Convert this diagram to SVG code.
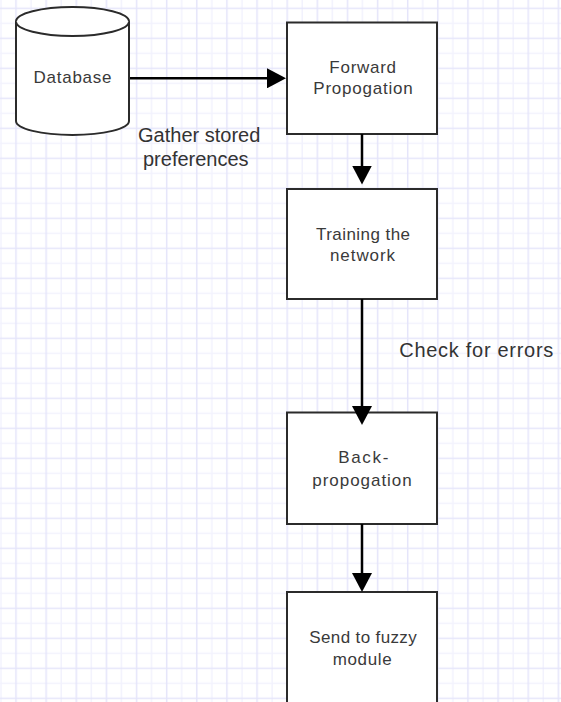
<svg xmlns="http://www.w3.org/2000/svg" width="561" height="702" viewBox="0 0 561 702">
<style>
.box{fill:#ffffff;stroke:#2b2b2b;stroke-width:2}
.t{font-family:"Liberation Sans",Arial,sans-serif;font-size:17px;fill:#3a3a3a;text-anchor:middle}
.lbl{font-family:"Liberation Sans",Arial,sans-serif;font-size:20px;fill:#333333}
.con{stroke:#000000;stroke-width:2.5;fill:none}
</style>
<defs>
<pattern id="grid" patternUnits="userSpaceOnUse" x="8.5" y="0.8" width="30.13" height="30">
<line x1="22.57" y1="0" x2="22.57" y2="30" stroke="#f2f2fd" stroke-width="1.5"/>
<line x1="0" y1="22.5" x2="30.13" y2="22.5" stroke="#f2f2fd" stroke-width="1.5"/>
<line x1="7.5" y1="0" x2="7.5" y2="30" stroke="#e5e5fa" stroke-width="1.5"/>
<line x1="0" y1="7.5" x2="30.13" y2="7.5" stroke="#e5e5fa" stroke-width="1.5"/>
</pattern>
<marker id="arr" markerUnits="userSpaceOnUse" markerWidth="20" markerHeight="20" refX="11" refY="10" orient="auto">
<path d="M0,0 L19,10 L0,20 Z" fill="#000000"/>
</marker>
</defs>
<rect x="0" y="0" width="561" height="702" fill="#ffffff"/>
<rect x="0" y="0" width="561" height="702" fill="url(#grid)"/>

<g id="database">
<path class="box" d="M16,21.5 A56.5,14.5 0 0 1 129,21.5 L129,121 A56.5,14 0 0 1 16,121 Z"/>
<path class="box" fill="none" d="M16,21.5 A56.5,14.5 0 0 0 129,21.5"/>
<text class="t" x="72.5" y="82.7" textLength="78" lengthAdjust="spacing">Database</text>
</g>

<g id="forward">
<rect class="box" x="287" y="22.5" width="150" height="111.5"/>
<text class="t" x="362.7" y="72.7" textLength="66.7" lengthAdjust="spacing">Forward</text>
<text class="t" x="363" y="94.3" textLength="99.4" lengthAdjust="spacing">Propogation</text>
</g>

<g id="training">
<rect class="box" x="287" y="189" width="150" height="110"/>
<text class="t" x="363" y="240" textLength="94" lengthAdjust="spacing">Training the</text>
<text class="t" x="362.5" y="261" textLength="65" lengthAdjust="spacing">network</text>
</g>

<g id="backprop">
<rect class="box" x="287" y="412.5" width="150" height="111.5"/>
<text class="t" x="363.3" y="463.3" textLength="50" lengthAdjust="spacing">Back-</text>
<text class="t" x="362" y="485.7" textLength="99.4" lengthAdjust="spacing">propogation</text>
</g>

<g id="fuzzy">
<rect class="box" x="287" y="592" width="150" height="112"/>
<text class="t" x="363" y="643.3" textLength="107.4" lengthAdjust="spacing">Send to fuzzy</text>
<text class="t" x="362.2" y="665" textLength="59" lengthAdjust="spacing">module</text>
</g>

<g id="connectors">
<line class="con" x1="130" y1="78.3" x2="278" y2="78.3" marker-end="url(#arr)"/>
<line class="con" x1="362" y1="134" x2="362" y2="176.5" marker-end="url(#arr)"/>
<line class="con" x1="362" y1="299" x2="362" y2="417" marker-end="url(#arr)"/>
<line class="con" x1="362" y1="524" x2="362" y2="584" marker-end="url(#arr)"/>
<text class="lbl" x="199.2" y="141.7" text-anchor="middle">Gather stored</text>
<text class="lbl" x="195.8" y="165.7" text-anchor="middle">preferences</text>
<text class="lbl" x="399.3" y="356.7" textLength="154" lengthAdjust="spacing">Check for errors</text>
</g>
</svg>
